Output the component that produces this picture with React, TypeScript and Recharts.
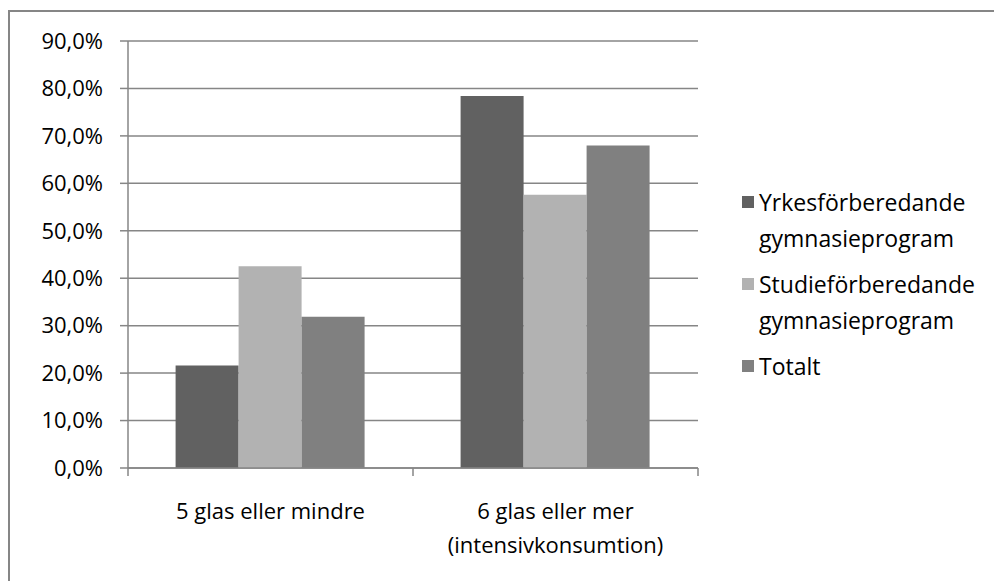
import { BarChart, Bar, XAxis, YAxis, CartesianGrid } from "recharts";

const categories = ["5 glas eller mindre", "6 glas eller mer (intensivkonsumtion)"];
const categoryLines = [["5 glas eller mindre"], ["6 glas eller mer", "(intensivkonsumtion)"]];
const yrkes = [21.6, 78.4];
const studie = [42.5, 57.6];
const totalt = [31.9, 68.0];
const yTicks = [0, 10, 20, 30, 40, 50, 60, 70, 80, 90];

const series = [
  { key: "yrkes", lines: ["Yrkesförberedande", "gymnasieprogram"], color: "#616161" },
  { key: "studie", lines: ["Studieförberedande", "gymnasieprogram"], color: "#b2b2b2" },
  { key: "totalt", lines: ["Totalt"], color: "#808080" },
];

const data = categories.map((c, i) => ({
  name: c,
  yrkes: yrkes[i],
  studie: studie[i],
  totalt: totalt[i],
}));

const FONT = "'Open Sans', sans-serif";
const AXIS = "#868686";
const FS = 22;

const fmt = (v: number) => v.toFixed(1).replace(".", ",") + "%";

function CatTick(props: any) {
  const { x, y, payload, index } = props;
  const band = 285;
  const lines = categoryLines[index] || [payload.value];
  return (
    <g>
      <line x1={x - band / 2} y1={y - 8} x2={x - band / 2} y2={y} stroke={AXIS} strokeWidth={1.5} />
      {index === categories.length - 1 && (
        <line x1={x + band / 2} y1={y - 8} x2={x + band / 2} y2={y} stroke={AXIS} strokeWidth={1.5} />
      )}
      {lines.map((l: string, i: number) => (
        <text key={i} x={x} y={y + 43 + i * 34} textAnchor="middle" fontSize={FS} fontFamily={FONT} fill="#000">
          {l}
        </text>
      ))}
    </g>
  );
}

function LegendBox() {
  return (
    <div style={{ position: "absolute", left: 742, top: 184, fontFamily: FONT, fontSize: 23, color: "#000" }}>
      {series.map((s) => (
        <div key={s.key} style={{ display: "flex", alignItems: "flex-start", marginBottom: 10 }}>
          <div style={{ width: 12, height: 12, background: s.color, marginTop: 12, marginRight: 5 }} />
          <div>
            {s.lines.map((l, i) => (
              <div key={i} style={{ lineHeight: "36px", whiteSpace: "nowrap" }}>{l}</div>
            ))}
          </div>
        </div>
      ))}
    </div>
  );
}

export default function App() {
  return (
    <div style={{ position: "absolute", left: 0, top: 0, width: 994, height: 581, background: "#fff", overflow: "hidden" }}>
      <div style={{ position: "absolute", left: 8, top: 10, width: 1000, height: 600, border: `2px solid ${AXIS}`, boxSizing: "border-box" }} />
      <BarChart
        width={994}
        height={581}
        data={data}
        margin={{ top: 41, right: 296, bottom: 0, left: 0 }}
        barGap={0}
        barCategoryGap="16.7%"
        style={{ position: "absolute", left: 0, top: 0 }}
      >
        <CartesianGrid vertical={false} stroke={AXIS} strokeWidth={1.5} />
        <XAxis
          dataKey="name"
          stroke={AXIS}
          strokeWidth={1.5}
          tickLine={false}
          interval={0}
          height={113}
          tick={<CatTick />}
        />
        <YAxis
          width={128}
          domain={[0, 90]}
          ticks={yTicks}
          tickFormatter={fmt}
          stroke={AXIS}
          strokeWidth={1.5}
          tickSize={8}
          tickMargin={17}
          tick={{ fill: "#000", fontSize: FS, fontFamily: FONT }}
          axisLine={{ stroke: AXIS, strokeWidth: 1.5 }}
        />
        {series.map((s) => (
          <Bar key={s.key} dataKey={s.key} name={s.lines.join(" ")} fill={s.color} isAnimationActive={false} />
        ))}
      </BarChart>
      <LegendBox />
    </div>
  );
}
